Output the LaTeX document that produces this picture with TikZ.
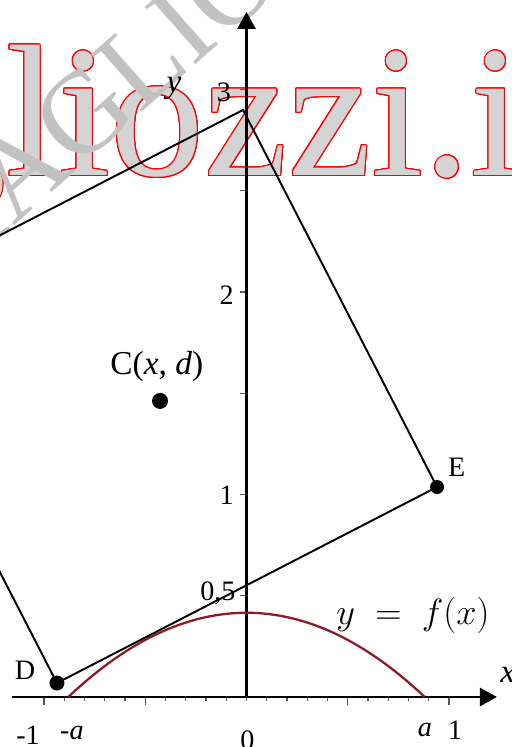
\documentclass[tikz,border=0pt]{standalone}
\usepackage{fontspec}
\setmainfont{Liberation Serif}
\usepackage{contour}
\contourlength{0.6pt}
\contournumber{24}
\usetikzlibrary{arrows.meta}
\definecolor{wmfill}{HTML}{D4D4D4}
\definecolor{wmdiag}{HTML}{C2C2C2}
\definecolor{curvecol}{RGB}{140,28,40}
\definecolor{tickcol}{HTML}{555555}
\begin{document}
\begin{tikzpicture}[x=4.05cm,y=4.05cm,
  axisline/.style={line width=1.6pt,-{Triangle[length=0.34cm,width=0.36cm]}},
  rectline/.style={line width=1.1pt,line join=miter},
  dotnode/.style={circle,fill=black,inner sep=0pt,minimum size=#1},
  ticklab/.style={inner sep=0pt,font=\fontsize{16}{18}\selectfont},
  ptlab/.style={inner sep=0pt,font=\fontsize{16}{18}\selectfont},
  bigmath/.style={inner sep=0pt,font=\fontsize{19}{21}\selectfont},
  tickline/.style={tickcol,line width=0.6pt}
]
\useasboundingbox (-1.2173,-0.2469) rectangle (1.3111,3.4420);
% watermark
\node[anchor=base west,inner sep=0pt] (wm) at (-2.788,2.575)
  {\fontsize{107}{107}\selectfont\color{wmfill}\contour{red}{magliozzi.it}};
\node[anchor=base west,inner sep=0pt,rotate=41.5,text=wmdiag] (wmdiag) at (-1.538,1.983)
  {\fontsize{66.5}{66.5}\selectfont MAGLIOZZI};
% ticks
\foreach \t in {-1,-0.9,...,1.05} \draw[tickline] (\t,0) -- (\t,-0.02);
\foreach \t in {-1,-0.5,0.5,1} \draw[tickline] (\t,0) -- (\t,-0.04);
\foreach \t in {0.5,1,...,3} \draw[tickline] (0,\t) -- (-0.03,\t);
% axes
\coordinate (xs) at (-1.158,0);
\coordinate (xe) at (1.237,0);
\coordinate (O) at (0,0);
\coordinate (ye) at (0,3.383);
\draw[axisline] (xs) -- (xe);
\draw[axisline] (O) -- (ye);
% curve
\draw[curvecol,line width=1.3pt,domain=-0.88:0.88,samples=80]
  plot (\x,{0.416*(1-(\x/0.88)^2)});
% rectangle
\coordinate (D) at (-0.936,0.069);
\coordinate (E) at (0.941,1.037);
\coordinate (T) at (-0.017,2.899);
\coordinate (L) at (-1.894,1.931);
\draw[rectline] (D) -- (E) -- (T) -- (L) -- cycle;
% points
\node[dotnode=0.30cm] (Dd) at (D) {};
\node[dotnode=0.28cm] (Ed) at (E) {};
\node[dotnode=0.32cm] (Cd) at (-0.427,1.462) {};
% labels
\node[ptlab] (Dl) at (-1.094,0.133) {D};
\node[ptlab] (El) at (1.038,1.136) {E};
\node[bigmath] (Cl) at (-0.443,1.631) {C(\textit{x}, \textit{d})};
\node[bigmath,font=\fontsize{20}{22}\selectfont] (fl) at (0.822,0.405) {$y\;=\;f(x)$};
\node[bigmath] (yl) at (-0.358,3.007) {\textit{y}};
\node[bigmath] (xl) at (1.29,0.109) {\textit{x}};
\node[ticklab] (l3) at (-0.111,2.988) {3};
\node[ticklab] (l2) at (-0.098,1.985) {2};
\node[ticklab] (l1) at (-0.098,0.998) {1};
\node[ticklab] (l05) at (-0.141,0.514) {0,5};
\node[ticklab] (lm1) at (-1.079,-0.188) {-1};
\node[ticklab] (lma) at (-0.862,-0.178) {-\textit{a}};
\node[ticklab] (l0) at (0.005,-0.212) {0};
\node[ticklab] (la) at (0.881,-0.163) {\textit{a}};
\node[ticklab] (lp1) at (1.030,-0.163) {1};
\end{tikzpicture}
\end{document}
